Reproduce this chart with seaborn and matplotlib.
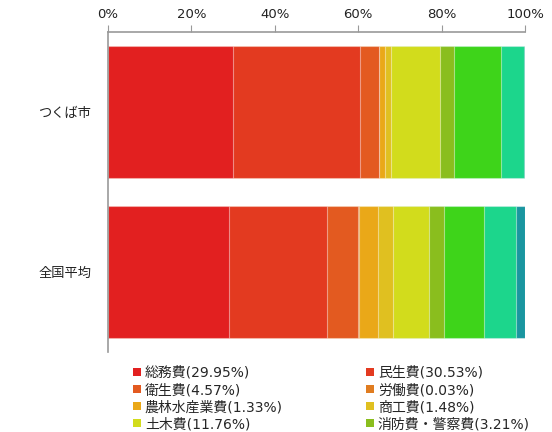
import matplotlib
matplotlib.use("Agg")
import matplotlib.pyplot as plt
from matplotlib.patches import Patch
import numpy as np
import pandas as pd
import seaborn as sns

regions = ["つくば市", "全国平均"]
categories = ["総務費", "民生費", "衛生費", "労働費", "農林水産業費", "商工費",
              "土木費", "消防費・警察費", "教育費", "公債費", "諸支出金"]
tsukuba = [29.95, 30.53, 4.57, 0.03, 1.33, 1.48, 11.76, 3.21, 11.4, 5.5, 0.24]
national = [29.0, 23.5, 7.5, 0.1, 4.6, 3.6, 8.7, 3.6, 9.6, 7.7, 2.1]
colors = ["#e22020", "#e33a20", "#e35a20", "#e07c20", "#eaa818", "#e0c020",
          "#d2dc1c", "#8abe1e", "#3ed41a", "#1cd68c", "#1a96a0"]
legend_n = 8

sns.set_style("white")
plt.rcParams["font.family"] = ["DejaVu Sans", "Noto Sans CJK JP"]

df = pd.DataFrame({"region": regions})
cum = np.cumsum(np.array([tsukuba, national]), axis=1)

fig = plt.figure(figsize=(5.52, 4.32), dpi=100)
ax = fig.add_axes([108 / 552, 1 - 352 / 432, 417 / 552, 320 / 432])

# stacked bars: draw cumulative totals from the back to the front
for i in range(len(categories) - 1, -1, -1):
    df["val"] = cum[:, i]
    sns.barplot(data=df, x="val", y="region", color=colors[i], saturation=1,
                width=0.825, edgecolor=(1, 1, 1, 0.45), linewidth=0.8, ax=ax)

ax.set_xlim(0, 100)
ax.set_ylim(1.5, -0.5)
ax.set_xticks([0, 20, 40, 60, 80, 100])
ax.set_xticklabels([f"{v}%" for v in range(0, 101, 20)])
ax.xaxis.tick_top()
ax.set_xlabel("")
ax.set_ylabel("")
ax.tick_params(axis="x", length=5, color="#999999", labelsize=9.5, pad=3,
               labelcolor="#222222")
ax.tick_params(axis="y", which="major", length=0, labelsize=9.5, pad=12,
               labelcolor="#222222")
ax.set_yticks([-0.5, 0.5, 1.5], minor=True)
ax.tick_params(axis="y", which="minor", length=4, color="#999999", width=1.2)
for s in ["bottom", "right"]:
    ax.spines[s].set_visible(False)
for s in ["top", "left"]:
    ax.spines[s].set_color("#999999")
    ax.spines[s].set_linewidth(1.2)

handles = [Patch(facecolor=colors[i], edgecolor="none") for i in range(legend_n)]
labels = [f"{categories[i]}({tsukuba[i]:.2f}%)" for i in range(legend_n)]
order = [0, 2, 4, 6, 1, 3, 5, 7]
fig.legend([handles[i] for i in order], [labels[i] for i in order],
           loc="upper left", bbox_to_anchor=(133 / 552, 1 - 366 / 432), ncol=2,
           frameon=False, fontsize=10, handlelength=0.55, handleheight=0.55,
           handletextpad=0.3, columnspacing=6.0, labelspacing=0.22,
           borderpad=0, borderaxespad=0)

fig.savefig("out.png", dpi=100)
